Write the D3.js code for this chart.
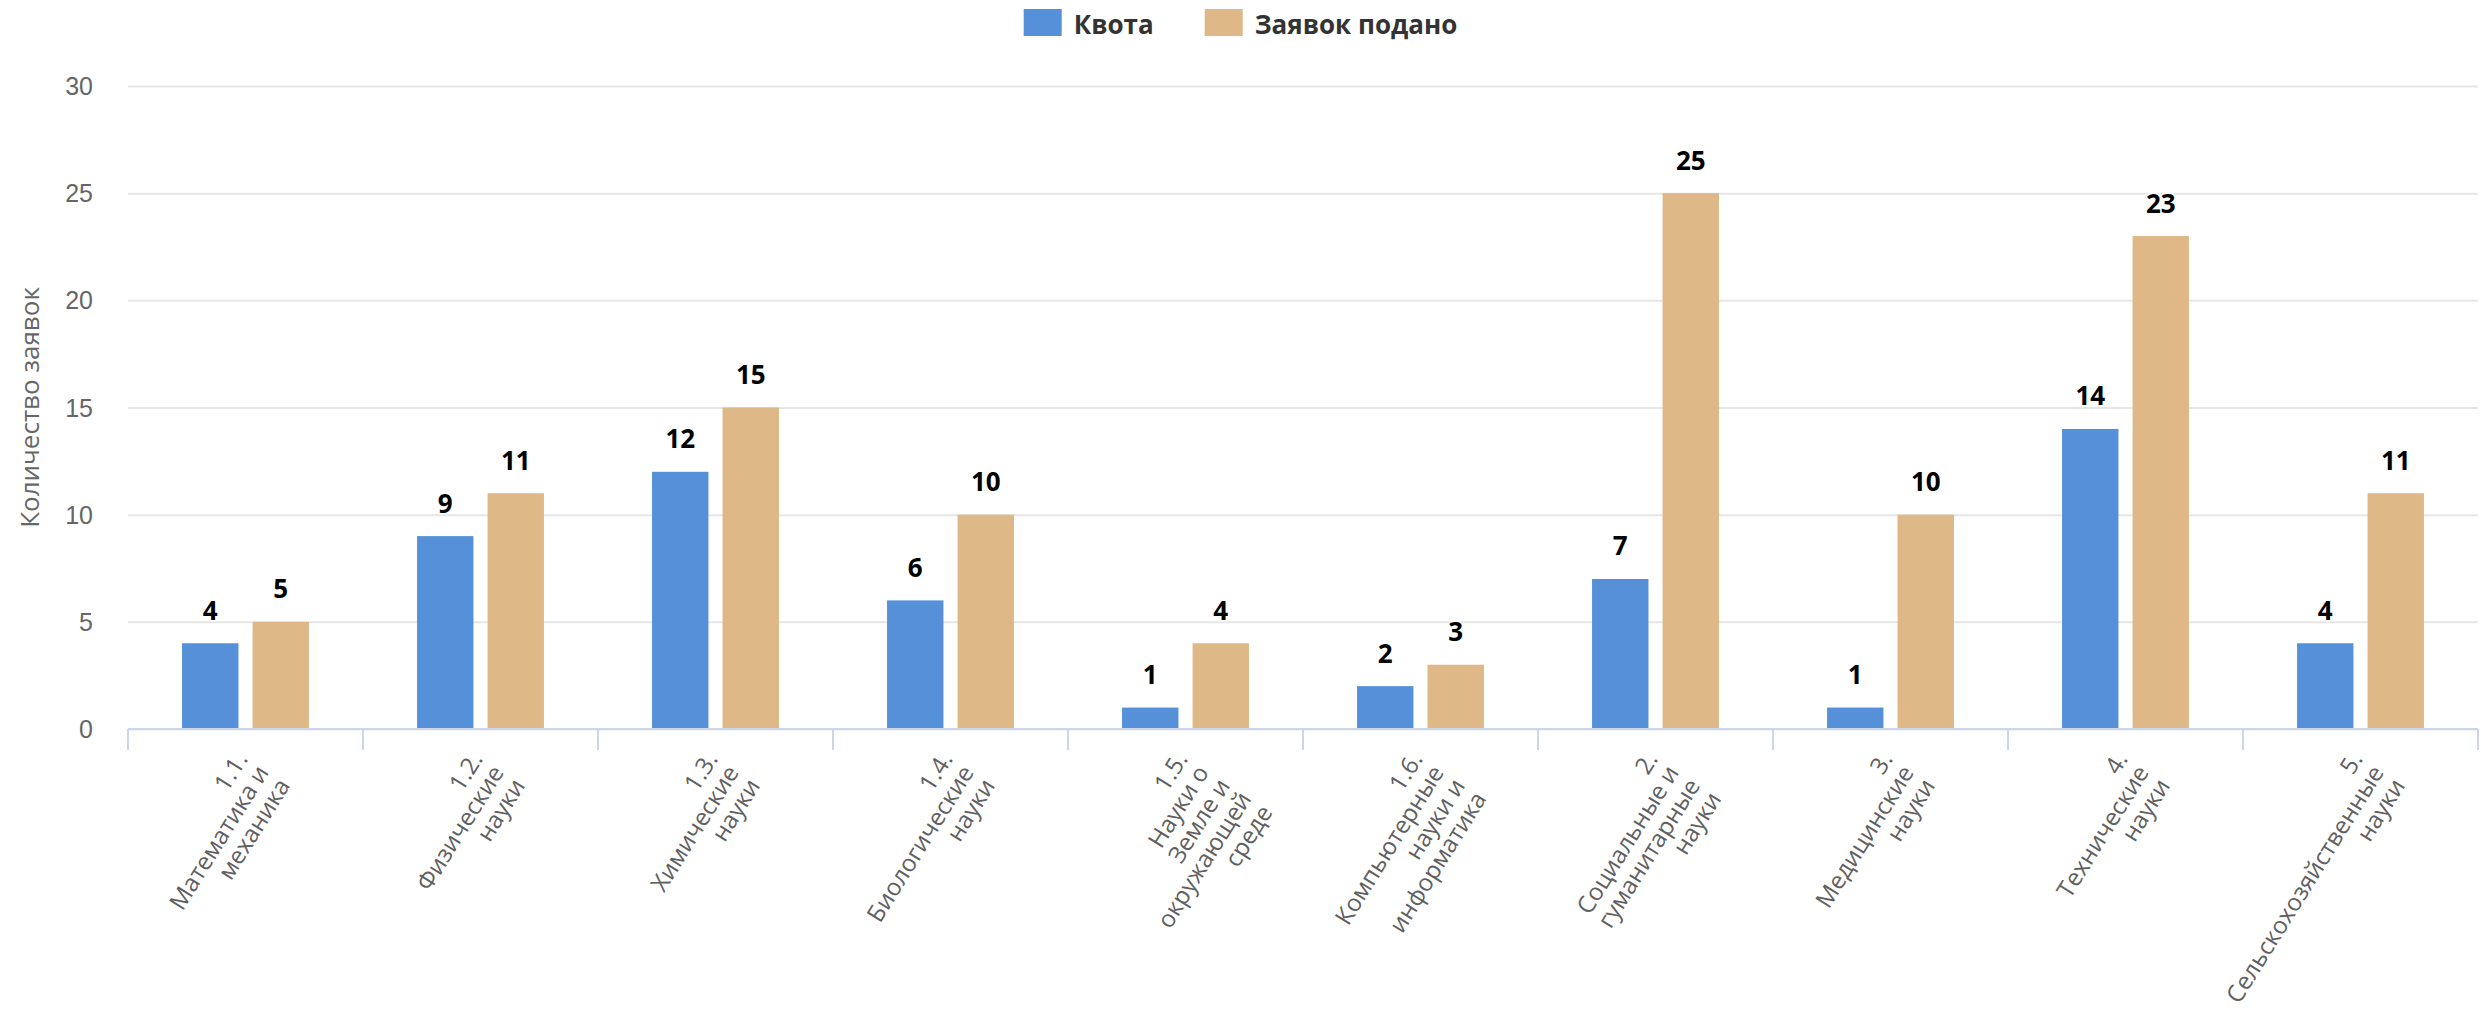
<!DOCTYPE html>
<html>
<head>
<meta charset="utf-8">
<script src="https://d3js.org/d3.v7.min.js"></script>
<style>
  html, body { margin: 0; padding: 0; background: #fff; }
  #chart svg { display: block; font-family: 'Open Sans', sans-serif; }
  .y.axis .domain { display: none; }
  .y.axis line { stroke: #e6e6e6; stroke-width: 2; }
  .y.axis text { fill: #666; font-size: 25px; }
  .x-line, .x-tick { stroke: #ccd6eb; stroke-width: 2; }
  .cat-label { fill: #606060; font-size: 24px; }
  .bar-text { fill: #000; font-size: 26px; font-weight: 700; stroke: #fff; stroke-width: 3px; paint-order: stroke; stroke-linejoin: round; }
  .legend-text { fill: #333; font-size: 26px; font-weight: 700; }
  .y-title { fill: #666; font-size: 26px; }
</style>
</head>
<body>
<div id="chart"></div>
<script>
// data
const categoryLines = [
  ['1.1.', 'Математика и', 'механика'],
  ['1.2.', 'Физические', 'науки'],
  ['1.3.', 'Химические', 'науки'],
  ['1.4.', 'Биологические', 'науки'],
  ['1.5.', 'Науки о', 'Земле и', 'окружающей', 'среде'],
  ['1.6.', 'Компьютерные', 'науки и', 'информатика'],
  ['2.', 'Социальные и', 'гуманитарные', 'науки'],
  ['3.', 'Медицинские', 'науки'],
  ['4.', 'Технические', 'науки'],
  ['5.', 'Сельскохозяйственные', 'науки']
];
const categories = categoryLines.map(l => l.join(' '));
const quota = [4, 9, 12, 6, 1, 2, 7, 1, 14, 4];
const submitted = [5, 11, 15, 10, 4, 3, 25, 10, 23, 11];
const seriesNames = ['Квота', 'Заявок подано'];
const seriesColors = ['#5590d8', '#deb887'];
const yTicks = [0, 5, 10, 15, 20, 25, 30];
const yTitle = 'Количество заявок';

const totalWidth = 2481,
      totalHeight = 1016,
      margins = { top: 86, right: 3, bottom: 287, left: 128 };

let width, height, x0, x1, y, yAxis;
let $svg, $g;

function constructChart() {
  width = totalWidth - margins.left - margins.right;
  height = totalHeight - margins.top - margins.bottom;

  const rows = categories.map((c, i) => ({
    category: c,
    values: [quota[i], submitted[i]]
  }));

  x0 = d3.scaleBand()
    .domain(categories)
    .range([0, width]);

  // same spacing as highcharts defaults: groupPadding .2, pointPadding .1
  x1 = d3.scaleBand()
    .domain(seriesNames)
    .range([x0.bandwidth() * 0.2, x0.bandwidth() * 0.8])
    .paddingInner(0.2)
    .paddingOuter(0.1);

  y = d3.scaleLinear()
    .domain([0, 30])
    .range([height, 0]);

  yAxis = d3.axisLeft(y)
    .tickValues(yTicks)
    .tickSize(-width)
    .tickPadding(35);

  $svg = d3.select('#chart').append('svg')
    .attr('width', totalWidth)
    .attr('height', totalHeight);

  $g = $svg.append('g')
    .attr('transform', `translate(${margins.left}, ${margins.top})`);

  // grid + y labels
  $g.append('g')
    .classed('y axis', true)
    .call(yAxis)
    .selectAll('text')
    .attr('dy', '0.34em');

  // bars
  const $groups = $g.selectAll('.cat')
    .data(rows)
    .enter()
    .append('g')
    .classed('cat', true)
    .attr('transform', d => `translate(${x0(d.category)}, 0)`);

  $groups.selectAll('.bar')
    .data(d => d.values.map((v, i) => ({ name: seriesNames[i], value: v, color: seriesColors[i] })))
    .enter()
    .append('rect')
    .classed('bar', true)
    .attr('x', d => x1(d.name))
    .attr('y', d => y(d.value))
    .attr('width', x1.bandwidth())
    .attr('height', d => y(0) - y(d.value))
    .attr('fill', d => d.color);

  $groups.selectAll('.bar-text')
    .data(d => d.values.map((v, i) => ({ name: seriesNames[i], value: v })))
    .enter()
    .append('text')
    .classed('bar-text', true)
    .attr('text-anchor', 'middle')
    .attr('x', d => x1(d.name) + x1.bandwidth() / 2)
    .attr('y', d => y(d.value) - 23.5)
    .text(d => d.value);

  // x axis line and ticks on band edges
  $g.append('line')
    .classed('x-line', true)
    .attr('x1', 0)
    .attr('x2', width)
    .attr('y1', height)
    .attr('y2', height);

  const edges = categories.map(c => x0(c)).concat([x0.range()[1]]);
  $g.selectAll('.x-tick')
    .data(edges)
    .enter()
    .append('line')
    .classed('x-tick', true)
    .attr('x1', d => d)
    .attr('x2', d => d)
    .attr('y1', height)
    .attr('y2', height + 21);

  // rotated category labels
  const $labels = $g.selectAll('.cat-label')
    .data(categoryLines)
    .enter()
    .append('text')
    .classed('cat-label', true)
    .attr('text-anchor', 'end')
    .attr('transform', (d, i) => `translate(${x0(categories[i]) + x0.bandwidth() / 2 + 3}, ${height + 30}) rotate(-58)`);

  $labels.selectAll('tspan')
    .data(d => d)
    .enter()
    .append('tspan')
    .attr('x', 0)
    .attr('dy', (d, i) => i === 0 ? 0 : 25)
    .text(d => d);

  // y title
  $svg.append('text')
    .classed('y-title', true)
    .attr('text-anchor', 'middle')
    .attr('dy', '0.35em')
    .attr('transform', `translate(30, ${margins.top + height / 2}) rotate(-90)`)
    .text(yTitle);

  drawLegend();
}

function drawLegend() {
  const symW = 38, symH = 27, textGap = 12, itemGap = 51;
  const $legend = $svg.append('g').classed('legend', true);

  let cursor = 0;
  seriesNames.forEach((name, i) => {
    const $item = $legend.append('g')
      .attr('transform', `translate(${cursor}, 0)`);
    $item.append('rect')
      .attr('width', symW)
      .attr('height', symH)
      .attr('y', 9)
      .attr('fill', seriesColors[i]);
    const $t = $item.append('text')
      .classed('legend-text', true)
      .attr('x', symW + textGap)
      .attr('y', 34)
      .text(name);
    cursor += symW + textGap + $t.node().getComputedTextLength() + itemGap;
  });
  const legendWidth = cursor - itemGap;
  $legend.attr('transform', `translate(${totalWidth / 2 - legendWidth / 2}, 0)`);
}

constructChart();
</script>
</body>
</html>
